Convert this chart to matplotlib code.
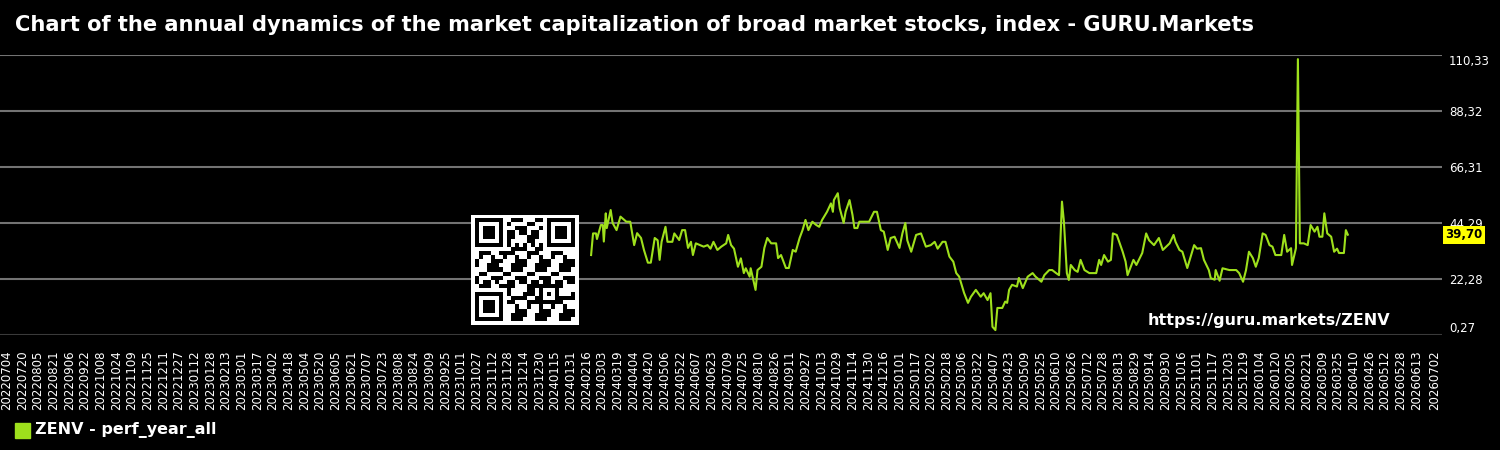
import numpy as np
import pandas as pd
import matplotlib
matplotlib.use("Agg")
import matplotlib.pyplot as plt
import matplotlib.dates as mdates
from matplotlib.patches import Rectangle

# values
dates = [
    "2024-02-21", "2024-02-23", "2024-02-26", "2024-02-27", "2024-03-02", "2024-03-04",
    "2024-03-05", "2024-03-07", "2024-03-08", "2024-03-12", "2024-03-14", "2024-03-18",
    "2024-03-22", "2024-03-28", "2024-04-01", "2024-04-05", "2024-04-08", "2024-04-12",
    "2024-04-15", "2024-04-19", "2024-04-22", "2024-04-26", "2024-04-29", "2024-05-01",
    "2024-05-03", "2024-05-07", "2024-05-09", "2024-05-14", "2024-05-16", "2024-05-21",
    "2024-05-24", "2024-05-27", "2024-05-30", "2024-06-02", "2024-06-04", "2024-06-07",
    "2024-06-15", "2024-06-19", "2024-06-22", "2024-06-25", "2024-06-29", "2024-07-03",
    "2024-07-08", "2024-07-10", "2024-07-13", "2024-07-16", "2024-07-20", "2024-07-23",
    "2024-07-26", "2024-07-28", "2024-08-01", "2024-08-02", "2024-08-07", "2024-08-09",
    "2024-08-13", "2024-08-16", "2024-08-19", "2024-08-23", "2024-08-28", "2024-08-30",
    "2024-09-02", "2024-09-07", "2024-09-10", "2024-09-14", "2024-09-17", "2024-09-21",
    "2024-09-24", "2024-09-27", "2024-09-30", "2024-10-04", "2024-10-08", "2024-10-11",
    "2024-10-14", "2024-10-19", "2024-10-23", "2024-10-25", "2024-10-26", "2024-10-30",
    "2024-11-01", "2024-11-05", "2024-11-07", "2024-11-11", "2024-11-14", "2024-11-16",
    "2024-11-19", "2024-11-21", "2024-12-01", "2024-12-06", "2024-12-09", "2024-12-13",
    "2024-12-16", "2024-12-20", "2024-12-23", "2024-12-27",
    "2025-01-01", "2025-01-04", "2025-01-07", "2025-01-09", "2025-01-13", "2025-01-18",
    "2025-01-23", "2025-01-28", "2025-02-02", "2025-02-06", "2025-02-09", "2025-02-14",
    "2025-02-17", "2025-02-21", "2025-02-25", "2025-02-28", "2025-03-03", "2025-03-06",
    "2025-03-08", "2025-03-12", "2025-03-15", "2025-03-20", "2025-03-25", "2025-03-28",
    "2025-04-01", "2025-04-04", "2025-04-06", "2025-04-09", "2025-04-11", "2025-04-16",
    "2025-04-19", "2025-04-21", "2025-04-23", "2025-04-26", "2025-05-01", "2025-05-03",
    "2025-05-07", "2025-05-12", "2025-05-17", "2025-05-20", "2025-05-26", "2025-05-29",
    "2025-06-03", "2025-06-06", "2025-06-10", "2025-06-13", "2025-06-16", "2025-06-18",
    "2025-06-21", "2025-06-23", "2025-06-25", "2025-06-29", "2025-07-02", "2025-07-05",
    "2025-07-09", "2025-07-14", "2025-07-21", "2025-07-24", "2025-07-26", "2025-07-29",
    "2025-08-02", "2025-08-05", "2025-08-07", "2025-08-11", "2025-08-14", "2025-08-17",
    "2025-08-20", "2025-08-22", "2025-08-26", "2025-08-28", "2025-08-31", "2025-09-06",
    "2025-09-10", "2025-09-13", "2025-09-18", "2025-09-23", "2025-09-27", "2025-10-04",
    "2025-10-08", "2025-10-10", "2025-10-14", "2025-10-17", "2025-10-22", "2025-10-26",
    "2025-10-29", "2025-11-01", "2025-11-05", "2025-11-08", "2025-11-13", "2025-11-15",
    "2025-11-19", "2025-11-20", "2025-11-24", "2025-11-27", "2025-12-04", "2025-12-11",
    "2025-12-14", "2025-12-18", "2025-12-21", "2025-12-24", "2025-12-28", "2025-12-31",
    "2026-01-03", "2026-01-07", "2026-01-10", "2026-01-14", "2026-01-17", "2026-01-20",
    "2026-01-26", "2026-01-29", "2026-02-01", "2026-02-05", "2026-02-06", "2026-02-10",
    "2026-02-12", "2026-02-14", "2026-02-18", "2026-02-22", "2026-02-25", "2026-03-01",
    "2026-03-04", "2026-03-06", "2026-03-09", "2026-03-11", "2026-03-14", "2026-03-18",
    "2026-03-21", "2026-03-24", "2026-03-26", "2026-03-31", "2026-04-02", "2026-04-04",
]
values = [
    31.7, 40.2, 40.2, 38.0, 43.5, 43.5,
    37.0, 48.1, 42.3, 49.4, 44.3, 41.5,
    46.8, 44.8, 44.8, 35.6, 40.3, 38.4,
    33.7, 28.7, 28.7, 38.4, 37.5, 29.8,
    36.9, 42.8, 36.9, 36.9, 40.2, 37.6,
    41.5, 41.5, 34.5, 36.9, 31.7, 36.3,
    35.0, 35.6, 34.2, 36.9, 33.7, 35.0,
    36.3, 39.6, 35.6, 34.2, 27.1, 30.4,
    24.6, 26.5, 23.2, 26.5, 18.0, 25.8,
    27.1, 34.5, 38.4, 36.3, 36.3, 30.5,
    31.7, 26.6, 26.6, 33.7, 33.0, 38.4,
    41.5, 45.5, 41.5, 44.8, 43.5, 42.8,
    45.5, 48.7, 52.0, 48.7, 53.3, 56.0,
    50.1, 44.3, 48.7, 53.3, 47.5, 42.3,
    42.3, 44.8, 44.8, 48.7, 48.7, 41.5,
    40.9, 33.7, 38.4, 38.9,
    34.5, 40.2, 44.3, 37.5, 33.0, 39.6,
    40.2, 35.0, 35.6, 36.9, 34.2, 36.9,
    36.9, 31.1, 29.1, 24.6, 23.2, 19.3,
    16.8, 12.9, 15.3, 18.0, 15.3, 16.7,
    14.0, 16.7, 3.5, 2.2, 10.9, 10.9,
    13.4, 12.9, 18.0, 20.0, 19.3, 22.7,
    18.7, 23.2, 24.6, 23.2, 21.2, 23.8,
    25.8, 25.8, 24.6, 23.8, 52.7, 44.8,
    24.6, 21.9, 27.8, 25.8, 25.1, 29.8,
    25.8, 24.6, 24.6, 29.8, 27.8, 31.7,
    29.1, 29.8, 40.2, 39.6, 36.3, 33.0,
    29.1, 23.8, 27.8, 29.8, 27.8, 32.5,
    40.2, 37.5, 35.6, 38.4, 33.7, 36.3,
    39.6, 36.9, 33.7, 33.0, 26.6, 31.7,
    35.6, 34.2, 34.4, 29.8, 25.8, 22.6,
    22.0, 25.8, 21.6, 26.5, 25.8, 25.8,
    24.6, 21.2, 25.8, 33.0, 30.5, 27.1,
    30.5, 40.2, 39.6, 35.6, 35.0, 31.7,
    31.7, 39.6, 33.0, 34.4, 27.8, 34.4,
    108.7, 36.3, 36.3, 35.6, 43.5, 40.9,
    42.8, 38.9, 38.9, 48.1, 40.2, 38.9,
    33.0, 34.2, 32.5, 32.5, 41.5, 39.7,
]
y_ticks = [0.27, 22.28, 44.29, 66.31, 88.32, 110.33]
tick_start = "2022-07-04"
tick_last = "2026-06-13"
tick_end = "2026-07-02"
last_value = 39.70
series_name = "ZENV - perf_year_all"
title = "Chart of the annual dynamics of the market capitalization of broad market stocks, index - GURU.Markets"
url = "https://guru.markets/ZENV"

line_color = "#9ee01c"

x = pd.to_datetime(dates)
ticks = list(pd.date_range(tick_start, tick_last, freq="16D")) + [pd.Timestamp(tick_end)]

fig = plt.figure(figsize=(15, 4.5), dpi=100, facecolor="black")
ax = fig.add_axes([0.0, 1 - 335 / 450, 1442 / 1500, 280 / 450])
ax.set_facecolor("black")

ax.plot(x, values, color=line_color, lw=1.5, zorder=3)

x0 = mdates.date2num(pd.Timestamp(tick_start)) - 6.8
ax.set_xlim(x0, x0 + 1473)
ax.set_ylim(y_ticks[0], y_ticks[-1])

ax.set_xticks(ticks)
ax.set_xticklabels([t.strftime("%Y%m%d") for t in ticks], rotation=90,
                   color="white", fontsize=8.5)
ax.tick_params(axis="x", length=0, pad=11)

ax.yaxis.tick_right()
ax.set_yticks(y_ticks)
ax.set_yticklabels([f"{v:.2f}".replace(".", ",") for v in y_ticks],
                   color="white", fontsize=8.5)
ax.tick_params(axis="y", length=0, pad=5)
ylabels = ax.get_yticklabels()
ylabels[0].set_va("bottom")
ylabels[-1].set_va("top")

ax.grid(axis="y", color="#737373", lw=1.5)
ax.yaxis.get_gridlines()[0].set_color("#3a3a3a")
for s in ax.spines.values():
    s.set_visible(False)

# last value marker on the right axis
ax.text(1.0025, last_value, f"{last_value:.2f}".replace(".", ","),
        transform=ax.get_yaxis_transform(), ha="left", va="center",
        fontsize=8.5, fontweight="bold", color="black",
        bbox=dict(boxstyle="square,pad=0.2", fc="#ffff00", ec="none"))

ax.text(1390 / 1442, 15 / 280, url, transform=ax.transAxes, ha="right",
        va="center", color="white", fontsize=11.5, fontweight="bold")

fig.text(15 / 1500, 1 - 25 / 450, title, color="white", fontsize=15.1,
         fontweight="bold", ha="left", va="center")

# legend
fig.patches.append(Rectangle((15 / 1500, 1 - 438 / 450), 15 / 1500, 15 / 450,
                             transform=fig.transFigure, color=line_color))
fig.text(35 / 1500, 1 - 430.5 / 450, series_name, color="white", fontsize=11.5,
         fontweight="bold", ha="left", va="center")

# QR-like badge
n = 25
r, c = np.indices((n, n))
qr = (((r * c) % 2 + (r * c) % 3) == 0).astype(int)
flip = ((r // 2 + c // 3) % 2) == 0
qr[flip] = 1 - qr[flip]
for (fr, fc) in [(0, 0), (0, n - 7), (n - 7, 0)]:
    qr[max(fr - 1, 0):fr + 8, max(fc - 1, 0):fc + 8] = 0
    qr[fr:fr + 7, fc:fc + 7] = 1
    qr[fr + 1:fr + 6, fc + 1:fc + 6] = 0
    qr[fr + 2:fr + 5, fc + 2:fc + 5] = 1
qr[6, 8:n - 8] = (np.arange(8, n - 8) + 1) % 2
qr[8:n - 8, 6] = (np.arange(8, n - 8) + 1) % 2
qr[16:21, 16:21] = 1
qr[17:20, 17:20] = 0
qr[18, 18] = 1
img = np.pad(qr, 1)
qax = fig.add_axes([471 / 1500, 1 - 325 / 450, 108 / 1500, 110 / 450])
qax.imshow(img, cmap="gray_r", interpolation="nearest", aspect="auto")
qax.axis("off")

fig.savefig("out.png", dpi=100, facecolor="black")
